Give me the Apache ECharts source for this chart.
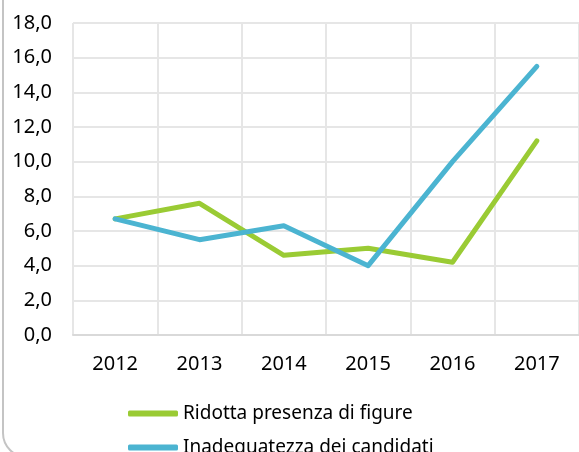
<!DOCTYPE html>
<html>
<head>
<meta charset="utf-8">
<script src="https://cdn.jsdelivr.net/npm/echarts@6/dist/echarts.min.js"></script>
<style>
  html, body { margin: 0; padding: 0; background: #fff; }
  #chart { width: 579px; height: 452px; }
</style>
</head>
<body>
<div id="chart"></div>
<script>
// categorie (anni)
var years = ["2012", "2013", "2014", "2015", "2016", "2017"];
// serie
var ridottaPresenza = [6.7, 7.6, 4.6, 5.0, 4.2, 11.2];
var inadeguatezza = [6.7, 5.5, 6.3, 4.0, 10.0, 15.5];
var seriesNames = ["Ridotta presenza di figure", "Inadequatezza dei candidati"];

var myChart = echarts.init(document.getElementById("chart"));
var font = "'Noto Sans', sans-serif";

// una legenda per riga (impilate in verticale)
function legendRow(name, top) {
  return {
    left: 123,
    top: top,
    itemWidth: 50,
    itemHeight: 6,
    icon: "roundRect",
    textStyle: { fontSize: 19, color: "#000", fontFamily: font },
    data: [name]
  };
}

var option = {
  animation: false,
  textStyle: { fontFamily: font },
  graphic: [
    {
      type: "rect",
      shape: { x: 3, y: -30, width: 700, height: 487, r: 24 },
      style: { fill: "none", stroke: "#c4c4c4", lineWidth: 2 },
      silent: true
    }
  ],
  grid: { left: 73, right: 0, top: 23, bottom: 117 },
  legend: [legendRow(seriesNames[0], 399), legendRow(seriesNames[1], 433)],
  xAxis: {
    type: "category",
    data: years,
    boundaryGap: true,
    axisLine: { lineStyle: { color: "#d9d9d9", width: 2 } },
    axisTick: { show: false },
    splitLine: { show: true, lineStyle: { color: "#e6e6e6", width: 2 } },
    axisLabel: { color: "#000", fontSize: 20, margin: 19, fontFamily: font }
  },
  yAxis: {
    type: "value",
    min: 0,
    max: 18,
    interval: 2,
    axisLine: { show: false },
    axisTick: { show: false },
    splitLine: { lineStyle: { color: "#e6e6e6", width: 2 } },
    axisLabel: {
      color: "#000",
      fontSize: 20,
      margin: 21,
      fontFamily: font,
      formatter: function (v) { return v.toFixed(1).replace(".", ","); }
    }
  },
  series: [
    {
      name: seriesNames[0],
      type: "line",
      data: ridottaPresenza,
      symbol: "none",
      color: "#9acb34",
      lineStyle: { width: 5, cap: "round", join: "round" }
    },
    {
      name: seriesNames[1],
      type: "line",
      data: inadeguatezza,
      symbol: "none",
      color: "#4bb4d1",
      lineStyle: { width: 5, cap: "round", join: "round" }
    }
  ]
};

myChart.setOption(option);
</script>
</body>
</html>
